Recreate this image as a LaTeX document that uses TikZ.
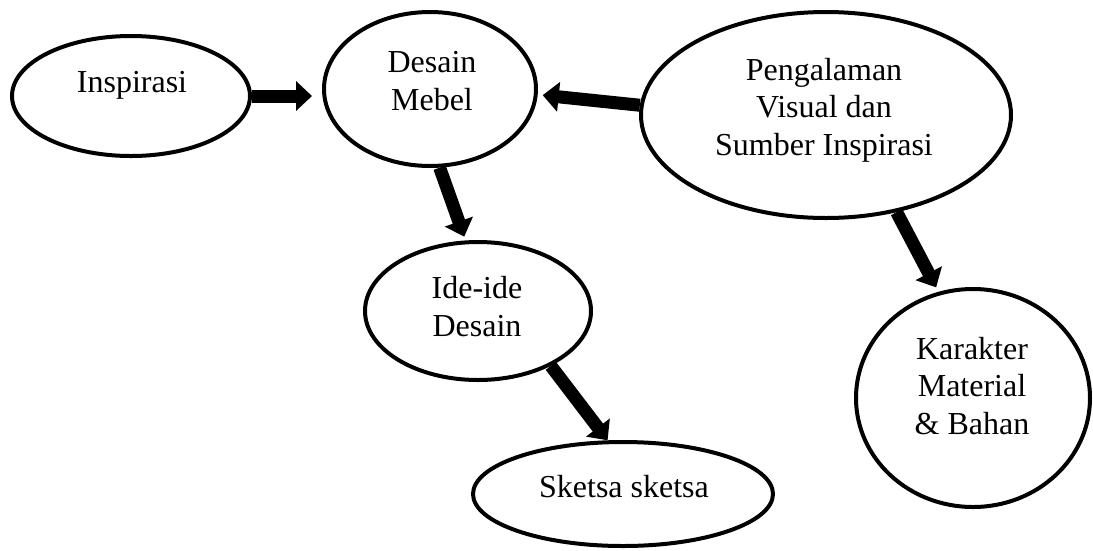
\documentclass[tikz,border=0pt]{standalone}
\usepackage{fontspec}
\setmainfont{Liberation Serif}
\usepackage{tikz}
\usetikzlibrary{shapes.geometric,arrows.meta,backgrounds}

\begin{document}
\begin{tikzpicture}[x=1pt,y=-1pt,
    bubble/.style={ellipse, draw, line width=4pt, fill=white, inner sep=0pt},
    words/.style={font=\fontsize{32}{37.5}\selectfont, align=center, anchor=base, inner sep=0pt},
    fat/.style={line width=13pt, -{Triangle[length=16pt,width=29pt]}}]
        \useasboundingbox (0,0) rectangle (1093,550);

        \node[bubble, minimum width=238pt, minimum height=120pt] (insp) at (131,96) {};
        \node[bubble, minimum width=212pt, minimum height=154pt] (desain) at (430,89) {};
        \node[bubble, minimum width=370pt, minimum height=206pt] (peng) at (826,115) {};
        \node[bubble, minimum width=226pt, minimum height=138pt] (ide) at (478,311) {};
        \node[bubble, minimum width=300pt, minimum height=104pt] (sketsa) at (623,494) {};
        \node[bubble, minimum width=234pt, minimum height=218pt] (karakter) at (973,398) {};

        \node[words] (inspT) at (132,92) {Inspirasi};
        \node[words] (desainT) at (432,110) {Desain\\Mebel};
        \node[words] (pengT) at (824,155) {Pengalaman\\Visual dan\\Sumber Inspirasi};
        \node[words] (ideT) at (477,336) {Ide-ide\\Desain};
        \node[words] (sketsaT) at (624,497) {Sketsa sketsa};
        \node[words] (karakterT) at (972,434) {Karakter\\Material\\\& Bahan};

        \begin{scope}[on background layer]
          \draw[fat, shorten >=10pt] (insp.east) -- (insp.east -| desain.west);
          \draw[fat, shorten >=5pt] (peng.177) -- (desain.-3);
          \draw[fat, shorten >=4pt] (desain.-83) -- (ide.100);
          \draw[fat, shorten >=5pt] (peng.-54) -- (karakter.108);
          \draw[fat] (ide.-37) -- (sketsa.106);
        \end{scope}
      \end{tikzpicture}
\end{document}
